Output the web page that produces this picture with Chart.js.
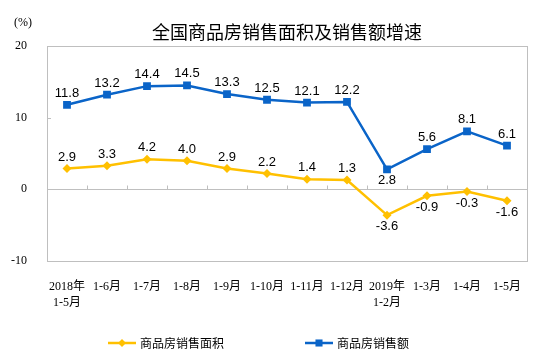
<!DOCTYPE html>
<html lang="zh-CN">
<head>
<meta charset="UTF-8">
<title>全国商品房销售面积及销售额增速</title>
<script src="https://cdn.jsdelivr.net/npm/chart.js@4.4.1/dist/chart.umd.min.js"></script>
<style>
  html, body { margin: 0; padding: 0; background: #fff; }
  #chart-wrap { width: 549px; height: 361px; }
</style>
</head>
<body>
<div id="chart-wrap"><canvas id="sales-chart" width="549" height="361"></canvas></div>
<script>
// ----------------------
// Data
// ----------------------
const months = [
    ['2018年', '1-5月'], '1-6月', '1-7月', '1-8月', '1-9月', '1-10月', '1-11月', '1-12月',
    ['2019年', '1-2月'], '1-3月', '1-4月', '1-5月'
];
const areaGrowth = [2.9, 3.3, 4.2, 4.0, 2.9, 2.2, 1.4, 1.3, -3.6, -0.9, -0.3, -1.6];   // 商品房销售面积
const amountGrowth = [11.8, 13.2, 14.4, 14.5, 13.3, 12.5, 12.1, 12.2, 2.8, 5.6, 8.1, 6.1]; // 商品房销售额
const yTicks = [-10, 0, 10, 20];
const seriesNames = ['商品房销售面积', '商品房销售额'];
const chartTitle = '全国商品房销售面积及销售额增速';
const unitLabel = '(%)';

const YELLOW = '#FFC000';
const BLUE = '#0A64C8';
const FRAME = '#BFBFBF';
const CJK = "'Noto Sans CJK SC', sans-serif";
const SERIF_CJK = "'Liberation Serif', 'Noto Sans CJK SC', serif";

// small helper to draw a legend marker the same way the points look
function drawMarker(ctx, style, x, y, r, color) {
    ctx.save();
    ctx.fillStyle = color;
    ctx.beginPath();
    if (style === 'rectRot') {
        ctx.moveTo(x, y - r);
        ctx.lineTo(x + r, y);
        ctx.lineTo(x, y + r);
        ctx.lineTo(x - r, y);
    } else {
        const s = r * Math.SQRT1_2;
        ctx.rect(x - s, y - s, s * 2, s * 2);
    }
    ctx.closePath();
    ctx.fill();
    ctx.restore();
}

// ----------------------
// Frame, zero line and little ticks
// ----------------------
const framePlugin = {
    id: 'frame',
    beforeDatasetsDraw(chart) {
        const { ctx, chartArea: a, scales: { x, y } } = chart;
        ctx.save();
        ctx.strokeStyle = FRAME;
        ctx.lineWidth = 1;
        ctx.strokeRect(Math.round(a.left) + 0.5, Math.round(a.top) + 0.5,
            Math.round(a.right - a.left), Math.round(a.bottom - a.top));

        // zero line
        const zy = Math.round(y.getPixelForValue(0)) + 0.5;
        ctx.beginPath();
        ctx.moveTo(a.left, zy);
        ctx.lineTo(a.right, zy);

        // category ticks sitting on the zero line
        for (let i = 1; i < months.length; i++) {
            const tx = Math.round((x.getPixelForValue(i - 1) + x.getPixelForValue(i)) / 2) + 0.5;
            ctx.moveTo(tx, zy);
            ctx.lineTo(tx, zy - 4);
        }

        // y ticks pointing inward
        yTicks.forEach(v => {
            const ty = Math.round(y.getPixelForValue(v)) + 0.5;
            ctx.moveTo(a.left, ty);
            ctx.lineTo(a.left + 4, ty);
        });
        ctx.stroke();
        ctx.restore();
    }
};

// ----------------------
// Value labels above / below the points
// ----------------------
const valueLabelPlugin = {
    id: 'valueLabels',
    afterDatasetsDraw(chart) {
        const { ctx } = chart;
        ctx.save();
        ctx.font = "13px 'Liberation Sans', Arial, sans-serif";
        ctx.fillStyle = '#000';
        ctx.textAlign = 'center';
        chart.data.datasets.forEach((ds, di) => {
            const meta = chart.getDatasetMeta(di);
            const lowest = Math.min(...ds.data);
            meta.data.forEach((pt, i) => {
                const v = ds.data[i];
                const below = v < 0 || v === lowest;
                ctx.textBaseline = below ? 'top' : 'bottom';
                ctx.fillText(v.toFixed(1), pt.x, below ? pt.y + 5 : pt.y - 5);
            });
        });
        ctx.restore();
    }
};

// ----------------------
// Title, unit and legend
// ----------------------
const decorPlugin = {
    id: 'decor',
    afterDraw(chart) {
        const { ctx, chartArea: a } = chart;
        ctx.save();
        ctx.fillStyle = '#000';
        ctx.textBaseline = 'middle';

        ctx.font = '18px ' + CJK;
        ctx.textAlign = 'center';
        ctx.fillText(chartTitle, (a.left + a.right) / 2, 32);

        ctx.font = '12px ' + SERIF_CJK;
        ctx.textAlign = 'left';
        ctx.fillText(unitLabel, 14, 23);

        // legend: line with marker in the middle, then the name
        const legendY = 343;
        const items = [
            { x: 108, color: YELLOW, style: 'rectRot', r: 4 },
            { x: 305, color: BLUE, style: 'rect', r: 5 }
        ];
        ctx.font = '12px ' + CJK;
        items.forEach((it, i) => {
            ctx.strokeStyle = it.color;
            ctx.lineWidth = 2.5;
            ctx.beginPath();
            ctx.moveTo(it.x, legendY);
            ctx.lineTo(it.x + 28, legendY);
            ctx.stroke();
            drawMarker(ctx, it.style, it.x + 14, legendY, it.r, it.color);
            ctx.fillStyle = '#000';
            ctx.fillText(seriesNames[i], it.x + 32, legendY);
        });
        ctx.restore();
    }
};

// ----------------------
// Chart
// ----------------------
const ctx = document.getElementById('sales-chart').getContext('2d');

new Chart(ctx, {
    type: 'line',
    data: {
        labels: months,
        datasets: [{
            label: seriesNames[0],
            data: areaGrowth,
            borderColor: YELLOW,
            backgroundColor: YELLOW,
            borderWidth: 2.5,
            pointStyle: 'rectRot',
            pointRadius: 4.5,
            pointBorderWidth: 0,
            tension: 0
        }, {
            label: seriesNames[1],
            data: amountGrowth,
            borderColor: BLUE,
            backgroundColor: BLUE,
            borderWidth: 2.5,
            pointStyle: 'rect',
            pointRadius: 5.5,
            pointBorderWidth: 0,
            tension: 0
        }]
    },
    options: {
        responsive: false,
        devicePixelRatio: 1,
        animation: false,
        layout: { padding: { left: 0, right: 22, top: 46, bottom: 0 } },
        plugins: {
            legend: { display: false },
            title: { display: false },
            tooltip: { enabled: false }
        },
        scales: {
            x: {
                offset: true,
                grid: { display: false },
                border: { display: false },
                ticks: {
                    color: '#000',
                    font: { family: SERIF_CJK, size: 12, lineHeight: 1.33 },
                    padding: 10,
                    maxRotation: 0,
                    autoSkip: false
                },
                afterFit: s => { s.height = 100; }
            },
            y: {
                min: yTicks[0],
                max: yTicks[yTicks.length - 1],
                grid: { display: false },
                border: { display: false },
                ticks: {
                    color: '#000',
                    font: { family: "'Liberation Serif', serif", size: 12 },
                    padding: 12
                },
                afterBuildTicks: s => { s.ticks = yTicks.map(v => ({ value: v })); },
                afterFit: s => { s.width = 47; }
            }
        }
    },
    plugins: [framePlugin, valueLabelPlugin, decorPlugin]
});
</script>
</body>
</html>
